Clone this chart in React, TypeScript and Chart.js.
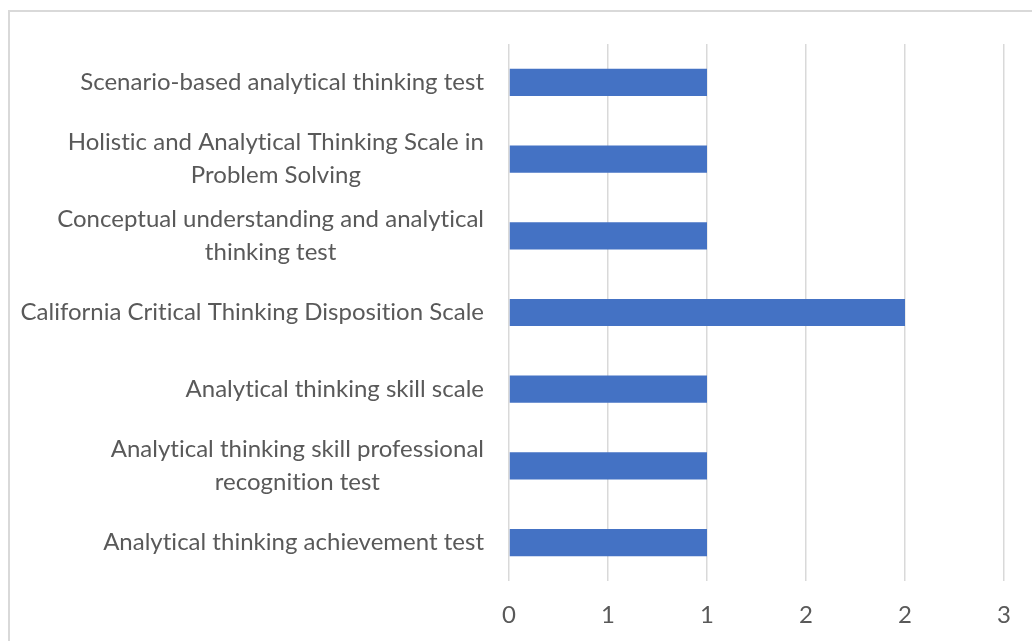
import React, { useEffect, useRef } from "react";
import { Chart, registerables } from "chart.js";

Chart.register(...registerables);

const categories: string[][] = [
  ["Scenario-based analytical thinking test"],
  ["Holistic and Analytical Thinking Scale in", "Problem Solving"],
  ["Conceptual understanding and analytical", "thinking test"],
  ["California Critical Thinking Disposition Scale"],
  ["Analytical thinking skill scale"],
  ["Analytical thinking skill professional", "recognition test"],
  ["Analytical thinking achievement test"],
];
const values: number[] = [1, 1, 1, 2, 1, 1, 1];
const xTickLabels: string[] = ["0", "1", "1", "2", "2", "3"];

const FONT_FAMILY = "Lato, 'Open Sans', sans-serif";
const FONT_SIZE = 24;
const TEXT_COLOR = "#595959";
const GRID_COLOR = "#d9d9d9";

export default function App() {
  const ref = useRef<HTMLCanvasElement | null>(null);

  useEffect(() => {
    if (!ref.current) return;

    const framePlugin = {
      id: "frame",
      beforeDraw(chart: any) {
        const ctx = chart.ctx;
        ctx.save();
        ctx.fillStyle = "#ffffff";
        ctx.fillRect(0, 0, chart.width, chart.height);
        ctx.strokeStyle = GRID_COLOR;
        ctx.lineWidth = 2;
        ctx.strokeRect(9, 11, chart.width + 20, chart.height + 20);
        ctx.restore();
      },
    };

    const labelPlugin = {
      id: "catLabels",
      afterDraw(chart: any) {
        const ctx = chart.ctx;
        const yScale = chart.scales.y;
        const lineH = 33;
        const rightX = yScale.right - 25;
        ctx.save();
        ctx.font = `${FONT_SIZE}px ${FONT_FAMILY}`;
        try {
          (ctx as any).letterSpacing = "0.01px";
        } catch (e) {}
        ctx.fillStyle = TEXT_COLOR;
        ctx.textBaseline = "middle";
        ctx.textAlign = "center";
        categories.forEach((lines, i) => {
          const cy = yScale.getPixelForTick(i);
          const w = Math.max(...lines.map((l) => ctx.measureText(l).width));
          const cx = rightX - w / 2;
          const startY = cy - ((lines.length - 1) * lineH) / 2;
          lines.forEach((l, j) => ctx.fillText(l, cx, startY + j * lineH));
        });
        ctx.restore();
      },
    };

    const chart = new Chart(ref.current, {
      type: "bar",
      data: {
        labels: categories.map((c) => c.join(" ")),
        datasets: [
          {
            data: values,
            backgroundColor: "#4472C4",
            borderWidth: 0,
            categoryPercentage: 1,
            barPercentage: 0.355,
          },
        ],
      },
      options: {
        indexAxis: "y",
        animation: false,
        responsive: false,
        maintainAspectRatio: false,
        layout: { padding: { left: 0, top: 44, right: 28, bottom: 0 } },
        plugins: { legend: { display: false }, tooltip: { enabled: false } },
        scales: {
          x: {
            min: 0,
            max: 2.5,
            ticks: {
              stepSize: 0.5,
              autoSkip: false,
              maxRotation: 0,
              padding: 20,
              color: TEXT_COLOR,
              font: { family: FONT_FAMILY, size: FONT_SIZE },
              callback: (_v: any, i: number) => xTickLabels[i],
            },
            grid: { color: GRID_COLOR, lineWidth: 1.5, drawTicks: false },
            border: { display: false },
            afterFit: (s: any) => {
              s.height = 60;
            },
          },
          y: {
            ticks: { display: false },
            grid: { display: false },
            border: { display: false },
            afterFit: (s: any) => {
              s.width = 509;
            },
          },
        },
      },
      plugins: [framePlugin, labelPlugin],
    });
    return () => chart.destroy();
  }, []);

  return (
    <div style={{ position: "fixed", left: 0, top: 0, width: 1032, height: 641, overflow: "hidden", background: "#fff" }}>
      <canvas ref={ref} width={1032} height={641} style={{ display: "block" }} />
    </div>
  );
}
